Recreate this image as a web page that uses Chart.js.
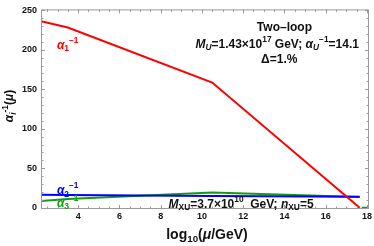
<!DOCTYPE html>
<html>
<head>
<meta charset="utf-8">
<script src="https://cdn.jsdelivr.net/npm/chart.js@4.4.1/dist/chart.umd.min.js"></script>
<style>
  html, body { margin: 0; padding: 0; background: #fff; }
  #wrap { width: 374px; height: 246px; }
</style>
</head>
<body>
<div id="wrap"><canvas id="c" width="374" height="246"></canvas></div>
<script>
// running couplings
const alpha1X = [2.2, 3.5, 10.5, 17.65];
const alpha1Y = [236, 228, 158.5, 0];
const alpha2X = [2.2, 3.5, 10.5, 17.65];
const alpha2Y = [16.5, 16.2, 15.0, 14.0];
const alpha3X = [2.2, 3.5, 10.5, 17.65];
const alpha3Y = [8.5, 11.0, 19.5, 13.8];
const alpha3TailX = [17.75, 18.05];
const alpha3TailY = [0, 0];

const xTicks = [4, 6, 8, 10, 12, 14, 16, 18];
const yTicks = [0, 50, 100, 150, 200, 250];

const FONT = '"Liberation Sans", Arial, sans-serif';
const RED = 'rgb(255,0,0)';
const BLUE = 'rgb(0,0,255)';
const GREEN = 'rgb(20,155,20)';

function pts(xs, ys) {
    return xs.map((x, i) => ({ x: x, y: ys[i] }));
}

// draws text made of segments with sub/superscripts
function drawRich(ctx, segs, x, y, size, color, align) {
    const fontFor = (s) => {
        const sz = s.s ? size * 0.7 : size;
        return (s.i ? 'italic ' : '') + 'bold ' + sz + 'px ' + FONT;
    };
    let total = 0;
    segs.forEach(s => { ctx.font = fontFor(s); total += ctx.measureText(s.t).width; });
    let cx = x;
    if (align === 'center') cx = x - total / 2;
    else if (align === 'right') cx = x - total;
    ctx.fillStyle = color;
    ctx.textBaseline = 'middle';
    ctx.textAlign = 'left';
    segs.forEach(s => {
        ctx.font = fontFor(s);
        let dy = 0;
        if (s.s === 'sub') dy = size * 0.3;
        if (s.s === 'sup') dy = -size * 0.4;
        ctx.fillText(s.t, cx, y + dy);
        cx += ctx.measureText(s.t).width;
    });
}

const framePlugin = {
    id: 'frame',
    afterDatasetsDraw(chart) {
        const ctx = chart.ctx;
        const a = chart.chartArea;
        const xs = chart.scales.x, ys = chart.scales.y;
        ctx.save();
        ctx.strokeStyle = '#9a9a9a';
        ctx.lineWidth = 1;
        ctx.strokeRect(a.left + 0.5, a.top + 0.5, a.right - a.left - 1, a.bottom - a.top - 1);
        ctx.beginPath();
        // x ticks, major every 2 and minor every 0.5
        for (let v = Math.ceil(xs.min * 2) / 2; v <= xs.max; v += 0.5) {
            const px = Math.round(xs.getPixelForValue(v)) + 0.5;
            const len = (Math.abs(v % 2) < 1e-6) ? 4 : 2.5;
            ctx.moveTo(px, a.bottom); ctx.lineTo(px, a.bottom - len);
            ctx.moveTo(px, a.top); ctx.lineTo(px, a.top + len);
        }
        // y ticks, major every 50 and minor every 10
        for (let v = 0; v <= ys.max; v += 10) {
            const py = Math.round(ys.getPixelForValue(v)) + 0.5;
            const len = (v % 50 === 0) ? 4 : 2.5;
            ctx.moveTo(a.left, py); ctx.lineTo(a.left + len, py);
            ctx.moveTo(a.right, py); ctx.lineTo(a.right - len, py);
        }
        ctx.stroke();
        ctx.restore();
    },
    afterDraw(chart) {
        const ctx = chart.ctx;
        const xs = chart.scales.x, ys = chart.scales.y;
        const X = v => xs.getPixelForValue(v), Y = v => ys.getPixelForValue(v);
        ctx.save();
        // curve labels
        drawRich(ctx, [{ t: 'α', i: true }, { t: '1', s: 'sub' }, { t: '−1', s: 'sup' }], X(2.97), Y(205.5), 12, RED, 'left');
        drawRich(ctx, [{ t: 'α', i: true }, { t: '2', s: 'sub' }, { t: '−1', s: 'sup' }], X(2.97), Y(21.5), 12, BLUE, 'left');
        drawRich(ctx, [{ t: 'α', i: true }, { t: '3', s: 'sub' }, { t: '−1', s: 'sup' }], X(2.97), Y(5.5), 12, GREEN, 'left');
        // info text
        drawRich(ctx, [{ t: 'Two–loop' }], X(14.0), Y(227.6), 12, '#111', 'center');
        drawRich(ctx, [{ t: 'M', i: true }, { t: 'U', s: 'sub', i: true }, { t: '=1.43×10' }, { t: '17', s: 'sup' },
            { t: ' GeV; ' }, { t: 'α', i: true }, { t: 'U', s: 'sub', i: true }, { t: '−1', s: 'sup' }, { t: '=14.1' }],
            X(13.65), Y(206.7), 12, '#111', 'center');
        drawRich(ctx, [{ t: 'Δ=1.%' }], X(13.75), Y(187), 12, '#111', 'center');
        drawRich(ctx, [{ t: 'M', i: true }, { t: 'XU', s: 'sub' }, { t: '=3.7×10' }, { t: '10', s: 'sup' },
            { t: '  GeV; ' }, { t: 'n', i: true }, { t: 'XU', s: 'sub' }, { t: '=5' }],
            X(11.9), Y(4.3), 12, '#111', 'center');
        // axis titles
        drawRich(ctx, [{ t: 'log' }, { t: '10', s: 'sub' }, { t: '(' }, { t: 'μ', i: true }, { t: '/GeV)' }],
            207, 235, 14, '#111', 'center');
        ctx.translate(10, 106);
        ctx.rotate(-Math.PI / 2);
        drawRich(ctx, [{ t: 'α', i: true }, { t: 'i', s: 'sub', i: true }, { t: '-1', s: 'sup' }, { t: '(' }, { t: 'μ', i: true }, { t: ')' }],
            0, 0, 12, '#111', 'center');
        ctx.restore();
    }
};

const line = (data, color) => ({
    data: data,
    showLine: true,
    borderColor: color,
    backgroundColor: color,
    borderWidth: 2,
    pointRadius: 0,
    tension: 0
});

new Chart(document.getElementById('c'), {
    type: 'scatter',
    data: {
        datasets: [
            line(pts(alpha1X, alpha1Y), RED),
            line(pts(alpha2X, alpha2Y), BLUE),
            line(pts(alpha3X, alpha3Y), GREEN),
            line(pts(alpha3TailX, alpha3TailY), GREEN)
        ]
    },
    options: {
        responsive: false,
        animation: false,
        layout: { padding: { top: 3, right: 5, left: 0, bottom: 0 } },
        plugins: { legend: { display: false }, tooltip: { enabled: false } },
        scales: {
            x: {
                type: 'linear',
                min: 2.2,
                max: 18.1,
                afterBuildTicks: s => { s.ticks = xTicks.map(v => ({ value: v })); },
                afterFit: s => { s.height = 37; },
                grid: { display: false, drawTicks: false },
                border: { display: false },
                ticks: { padding: 2, color: '#111', font: { family: FONT, size: 9, weight: 'bold' } }
            },
            y: {
                type: 'linear',
                min: -1.5,
                max: 251,
                afterBuildTicks: s => { s.ticks = yTicks.map(v => ({ value: v })); },
                afterFit: s => { s.width = 41; },
                grid: { display: false, drawTicks: false },
                border: { display: false },
                ticks: { padding: 4, color: '#111', font: { family: FONT, size: 9, weight: 'bold' } }
            }
        }
    },
    plugins: [framePlugin]
});
</script>
</body>
</html>
